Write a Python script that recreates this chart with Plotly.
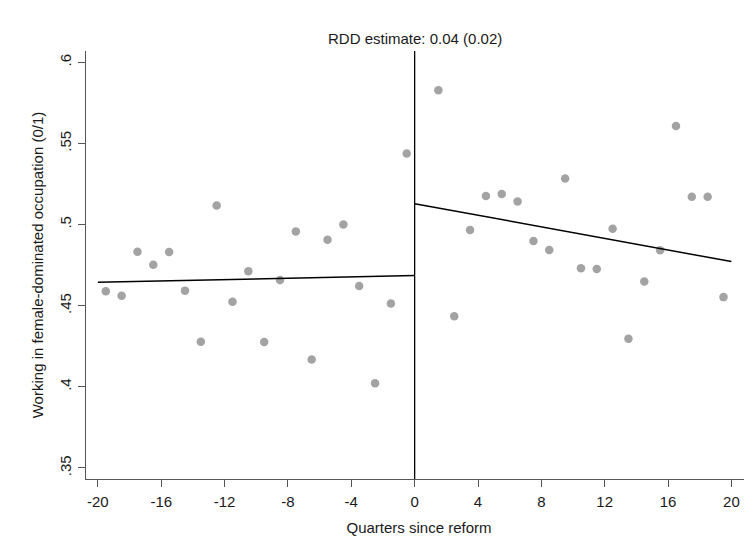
import plotly.graph_objects as go

# Binned means (quarter midpoints)
x_left = [-19.5, -18.5, -17.5, -16.5, -15.5, -14.5, -13.5, -12.5, -11.5, -10.5,
          -9.5, -8.5, -7.5, -6.5, -5.5, -4.5, -3.5, -2.5, -1.5, -0.5]
y_left = [0.4589, 0.4561, 0.4833, 0.4753, 0.4831, 0.4593, 0.4278, 0.5118, 0.4524, 0.4712,
          0.4276, 0.4659, 0.4958, 0.4169, 0.4907, 0.5001, 0.4622, 0.4022, 0.4513, 0.5438]
x_right = [1.5, 2.5, 3.5, 4.5, 5.5, 6.5, 7.5, 8.5, 9.5, 10.5,
           11.5, 12.5, 13.5, 14.5, 15.5, 16.5, 17.5, 18.5, 19.5]
y_right = [0.5828, 0.4435, 0.4967, 0.5176, 0.5188, 0.5143, 0.4899, 0.4844, 0.5284, 0.4731,
           0.4727, 0.4975, 0.4296, 0.4649, 0.4842, 0.5608, 0.5172, 0.5172, 0.4553]

# Linear fits on each side
fit_left_x = [-20, 0]
fit_left_y = [0.4645, 0.4686]
fit_right_x = [0, 20]
fit_right_y = [0.5129, 0.4772]

x_ticks = [-20, -16, -12, -8, -4, 0, 4, 8, 12, 16, 20]
x_ticktext = ["-20", "-16", "-12", "-8", "-4", "0", "4", "8", "12", "16", "20"]
y_ticks = [0.35, 0.4, 0.45, 0.5, 0.55, 0.6]
y_ticktext = [".35", ".4", ".45", ".5", ".55", ".6"]

title_text = "RDD estimate: 0.04 (0.02)"
x_title = "Quarters since reform"
y_title = "Working in female-dominated occupation (0/1)"

FONT = "Liberation Sans, Arial, sans-serif"
font = dict(family=FONT, size=15, color="#1a1a1a")

fig = go.Figure()
marker = dict(color="#a3a3a3", size=8.5, line=dict(width=0))
fig.add_trace(go.Scatter(x=x_left, y=y_left, mode="markers", marker=marker, showlegend=False))
fig.add_trace(go.Scatter(x=x_right, y=y_right, mode="markers", marker=marker, showlegend=False))
fig.add_trace(go.Scatter(x=fit_left_x, y=fit_left_y, mode="lines",
                         line=dict(color="black", width=1.5), showlegend=False))
fig.add_trace(go.Scatter(x=fit_right_x, y=fit_right_y, mode="lines",
                         line=dict(color="black", width=1.5), showlegend=False))

fig.add_shape(type="line", x0=0, x1=0, xref="x", y0=0, y1=1, yref="paper",
              line=dict(color="black", width=1.3))

fig.add_annotation(x=0, xref="x", y=1, yref="paper", yanchor="bottom", yshift=2,
                   text=title_text, showarrow=False, font=font)

fig.update_layout(
    width=744, height=549,
    margin=dict(l=78, r=0, t=43, b=78),
    paper_bgcolor="white", plot_bgcolor="white",
    font=font,
    xaxis=dict(range=[-20.75, 21.3], tickmode="array", tickvals=x_ticks, ticktext=x_ticktext,
               ticks="outside", ticklen=7, tickwidth=1.2, tickcolor="#555",
               ticklabelstandoff=2,
               showline=True, linecolor="#555", linewidth=1.3,
               showgrid=False, zeroline=False, automargin=False,
               title=dict(text=x_title, standoff=13, font=font)),
    yaxis=dict(range=[0.3432, 0.607], tickmode="array", tickvals=y_ticks,
               ticktext=y_ticktext, tickangle=-90,
               ticks="outside", ticklen=7, tickwidth=1.2, tickcolor="#555",
               ticklabelstandoff=1,
               showline=True, linecolor="#555", linewidth=1.3,
               showgrid=False, zeroline=False, automargin=False,
               title=dict(text=y_title, standoff=9, font=font)),
)

fig.write_html("out.html")
